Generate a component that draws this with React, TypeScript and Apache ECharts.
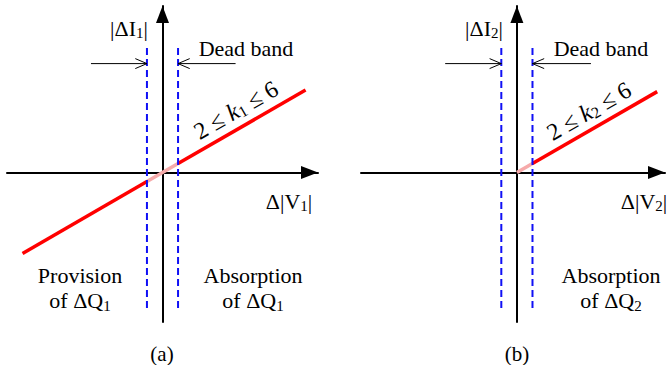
import React, { useEffect, useRef } from "react";
import * as echarts from "echarts";

// Dead band half-width (per-unit voltage deviation)
const deadBand = 0.1;

// Panel (a): bidirectional droop response, passing through the dead band
const responseAX = [-0.9, -0.1, 0.1, 0.92];
const responseAY = [-0.52, -0.058, 0.058, 0.53];

// Panel (b): absorption-only response
const responseBX = [0, 0.1, 0.9];
const responseBY = [0, 0.058, 0.52];

// Vertical extent of the dead-band guides
const guideTop = 0.8;
const guideBottom = -0.875;

// "Dead band" pointer arrows: height and tail positions (left, right) per panel
const pointerY = 0.7;
const pointerTailsA = [-0.46, 0.47];
const pointerTailsB = [-0.46, 0.475];
const headLen = 0.075;
const headHalf = 0.032;

// Axis ranges per panel
const xRangeA = [-1, 1];
const xRangeB = [-1, 0.95];
const yRange = [-0.96, 1.07];

const FONT = '"Liberation Serif", "Times New Roman", serif';
const RED = "#ff0000";
const PINK = "#f6aaaa";
const BLUE = "#1010f5";

function seg(pts: number[][], color: string, width: number, idx: number, dashed = false) {
  return {
    type: "line",
    xAxisIndex: idx,
    yAxisIndex: idx,
    data: pts,
    symbol: "none",
    silent: true,
    lineStyle: { color, width, type: dashed ? [7, 4] : "solid", cap: "butt" },
    z: 3,
  };
}

function panelSeries(idx: number, xs: number[], ys: number[], tails: number[], twoSided: boolean) {
  const s: any[] = [];
  if (twoSided) {
    s.push(seg([[xs[1], ys[1]], [xs[2], ys[2]]], PINK, 3.5, idx));
    s.push(seg([[xs[0], ys[0]], [xs[1], ys[1]]], RED, 3.5, idx));
    s.push(seg([[xs[2], ys[2]], [xs[3], ys[3]]], RED, 3.5, idx));
  } else {
    s.push(seg([[xs[0], ys[0]], [xs[1], ys[1]]], PINK, 3.5, idx));
    s.push(seg([[xs[1], ys[1]], [xs[2], ys[2]]], RED, 3.5, idx));
  }
  // dead-band guides
  s.push(seg([[-deadBand, guideTop], [-deadBand, guideBottom]], BLUE, 2, idx, true));
  s.push(seg([[deadBand, guideTop], [deadBand, guideBottom]], BLUE, 2, idx, true));
  // pointer arrows towards the band edges
  s.push(seg([[tails[0], pointerY], [-deadBand, pointerY]], "#000", 1, idx));
  s.push(
    seg(
      [
        [-deadBand - headLen, pointerY + headHalf],
        [-deadBand, pointerY],
        [-deadBand - headLen, pointerY - headHalf],
      ],
      "#000",
      1,
      idx
    )
  );
  s.push(seg([[tails[1], pointerY], [deadBand, pointerY]], "#000", 1, idx));
  s.push(
    seg(
      [
        [deadBand + headLen, pointerY + headHalf],
        [deadBand, pointerY],
        [deadBand + headLen, pointerY - headHalf],
      ],
      "#000",
      1,
      idx
    )
  );
  return s;
}

function axisCommon(idx: number, min: number, max: number) {
  return {
    gridIndex: idx,
    type: "value",
    min,
    max,
    axisLine: {
      onZero: true,
      symbol: ["none", "triangle"],
      symbolSize: [13, 17],
      symbolOffset: [0, -8.5],
      lineStyle: { color: "#000", width: 2 },
    },
    axisTick: { show: false },
    axisLabel: { show: false },
    splitLine: { show: false },
  };
}

function makeRich(size: number) {
  return {
    s: { fontFamily: FONT, fontSize: Math.round(size * 0.66), fill: "#000", verticalAlign: "bottom", lineHeight: size * 0.78 },
    i: { fontFamily: FONT, fontSize: size, fontStyle: "italic", fill: "#000" },
  };
}

function label(text: string, x: number, y: number, size = 22, extra: any = {}, lineHeight = 25) {
  return {
    type: "text",
    x,
    y,
    silent: true,
    ...extra,
    style: {
      text,
      fontFamily: FONT,
      fontSize: size,
      fill: "#000",
      align: "center",
      verticalAlign: "middle",
      lineHeight,
      rich: makeRich(size),
    },
  };
}

export default function App() {
  const ref = useRef<HTMLDivElement>(null);
  useEffect(() => {
    if (!ref.current) return;
    const chart = echarts.init(ref.current, null, { renderer: "svg" });
    chart.setOption({
      animation: false,
      backgroundColor: "#fff",
      grid: [
        { left: 7, top: 6, width: 311, height: 316 },
        { left: 361, top: 6, width: 304, height: 316 },
      ],
      xAxis: [axisCommon(0, xRangeA[0], xRangeA[1]), axisCommon(1, xRangeB[0], xRangeB[1])],
      yAxis: [axisCommon(0, yRange[0], yRange[1]), axisCommon(1, yRange[0], yRange[1])],
      series: [
        ...panelSeries(0, responseAX, responseAY, pointerTailsA, true),
        ...panelSeries(1, responseBX, responseBY, pointerTailsB, false),
      ],
      graphic: [
        label("|ΔI{s|1}|", 129, 28),
        label("|ΔI{s|2}|", 484, 28),
        label("Dead band", 246, 48),
        label("Dead band", 601, 48),
        label("2 ≤ {i|k}{s|1} ≤ 6", 236, 110, 24, { rotation: Math.PI / 6 }),
        label("2 ≤ {i|k}{s|2} ≤ 6", 589, 111, 24, { rotation: Math.PI / 6 }),
        label("Δ|V{s|1}|", 289, 201),
        label("Δ|V{s|2}|", 644, 201),
        label("Provision\nof ΔQ{s|1}", 80, 288),
        label("Absorption\nof ΔQ{s|1}", 253, 288),
        label("Absorption\nof ΔQ{s|2}", 611, 288),
        label("(a)", 162, 354, 21, {}, 20),
        label("(b)", 517, 354, 21, {}, 20),
      ],
    });
    return () => chart.dispose();
  }, []);
  return (
    <div
      ref={ref}
      style={{ position: "fixed", left: 0, top: 0, width: 670, height: 365, background: "#fff" }}
    />
  );
}
